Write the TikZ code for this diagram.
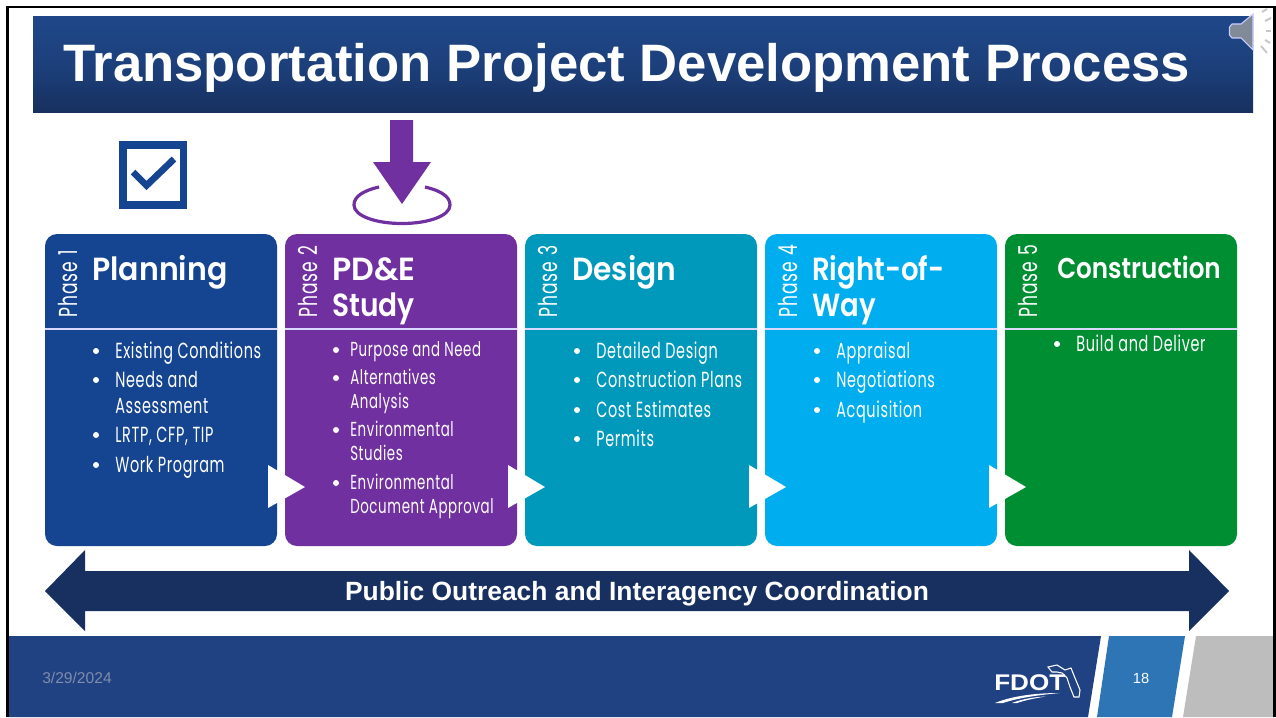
\documentclass[tikz,border=0pt]{standalone}
\usepackage{fontspec}
\setmainfont{Liberation Sans}
\newfontfamily\futbody[FakeStretch=0.66,LetterSpace=3]{Poppins}
\newfontfamily\futphase[FakeStretch=0.66,LetterSpace=4]{Poppins}
\newfontfamily\futhead[FakeStretch=0.86]{Poppins SemiBold}
\newfontfamily\logofont[FakeStretch=1.15]{Liberation Sans Bold}
\usetikzlibrary{calc}
\definecolor{bluea}{HTML}{154491}
\definecolor{purp}{HTML}{7030A0}
\definecolor{teal}{HTML}{0099BB}
\definecolor{sky}{HTML}{00AEEF}
\definecolor{grn}{HTML}{008E33}
\definecolor{navy}{HTML}{17305F}
\definecolor{titletop}{HTML}{1F4788}
\definecolor{band}{HTML}{204282}
\definecolor{pageno}{HTML}{2E75B6}
\definecolor{grayband}{HTML}{BDBDBD}
\definecolor{speaker}{HTML}{808A99}
\definecolor{datecol}{HTML}{7F8CAB}
\tikzset{
  x=0.75pt,y=-0.75pt,
  cardbox/.style={rounded corners=9pt,line width=0pt},
  divider/.style={draw=white!85!blue,line width=1pt},
  phaselabel/.style={text=white,rotate=90,inner sep=0pt,anchor=west,font=\futphase\fontsize{19.5}{20}\selectfont},
  headlabel/.style={text=white,inner sep=0pt,anchor=base west,font=\futhead\fontsize{24}{26}\selectfont},
  itemlabel/.style={text=white,inner sep=0pt,anchor=base west,font=\futbody\fontsize{16.4}{17}\selectfont},
  itemsmall/.style={itemlabel,font=\futbody\fontsize{15.2}{17}\selectfont},
  dotmark/.style={fill=white,circle,inner sep=0pt,minimum size=4.5pt},
  passarrow/.style={fill=white,draw=none},
}
\begin{document}
\begin{tikzpicture}
\useasboundingbox (0,0) rectangle (1276,717);
\fill[white] (0,0) rectangle (1276,717);
% title
\shade[top color=titletop,bottom color=navy,middle color=titletop!70!navy] (33,17) rectangle (1253,112);
\node[text=white,inner sep=0pt,anchor=base west,font=\bfseries\fontsize{39.5}{42}\selectfont] (title) at (63,81.5) {Transportation Project Development Process};
% speaker
\fill[speaker,draw=blue!20!white,line width=0.8pt] (1253,14) -- (1241,24) -- (1232,24) -- (1229.5,27) -- (1229.5,35) -- (1232,38) -- (1241,38) -- (1253,50) -- cycle;
\foreach \a/\b/\c/\d in {1262/12/1267/9, 1265/21/1271/18, 1266/31/1271/31, 1265/40/1270/43, 1261/46/1267/53}{
  \draw[gray!45,line width=1.4pt] (\a,\b) -- (\c,\d);}
% checkbox
\draw[bluea,line width=5.6pt,fill=white] (123,145) rectangle (183.5,205);
\draw[bluea,line width=5pt] (133,172) -- (146.5,185.5) -- (174,159);
% purple arrow
\fill[purp] (390,120) -- (413,120) -- (413,162) -- (431,162) -- (402,204) -- (373,162) -- (390,162) -- cycle;
\draw[purp,line width=2.4pt] (379,187) .. controls (362,191) and (354,197) .. (354,205) .. controls (354,216) and (376,223.5) .. (402,223.5) .. controls (428,223.5) and (450,216) .. (450,205) .. controls (450,197) and (442,191) .. (425,187);
% cards
\fill[cardbox,bluea] (45,234) rectangle (277,546);
\fill[cardbox,purp] (285,234) rectangle (517,546);
\fill[cardbox,teal] (525,234) rectangle (757,546);
\fill[cardbox,sky] (765,234) rectangle (997,546);
\fill[cardbox,grn] (1005,234) rectangle (1237,546);
\foreach \xa in {45,285,525,765,1005}{
  \draw[divider] (\xa,329) -- (\xa+232,329);}
% phase labels
\node[phaselabel] (p1) at (68,318) {Phase 1};
\node[phaselabel] (p2) at (308,318) {Phase 2};
\node[phaselabel] (p3) at (548,318) {Phase 3};
\node[phaselabel] (p4) at (788,318) {Phase 4};
\node[phaselabel] (p5) at (1028,318) {Phase 5};
% headings
\node[headlabel] (h1) at (92,280) {\scalebox{1.09}[1]{Planning}};
\node[headlabel] (h2a) at (332,280) {\scalebox{1.15}[1]{PD\&E}};
\node[headlabel] (h2b) at (332,316) {\scalebox{1.02}[1]{Study}};
\node[headlabel] (h3) at (572,280) {\scalebox{1.08}[1]{Design}};
\node[headlabel] (h4a) at (812,280) {Right-of-};
\node[headlabel] (h4b) at (812,316) {Way};
\node[headlabel,font=\futhead\fontsize{21.5}{24}\selectfont] (h5) at (1057,278) {Construction};
% items
\foreach \dx/\tx/\y/\t in {
 96/115/358/Existing Conditions, 96/115/387/Needs and, 0/115/413/Assessment, 96/115/442/{LRTP, CFP, TIP}, 96/115/472/Work Program,
 577/596/358/Detailed Design, 577/596/387/Construction Plans, 577/596/417/Cost Estimates, 577/596/446/Permits,
 817/836/358/Appraisal, 817/836/387/Negotiations, 817/836/417/Acquisition,
 1057/1076/351/Build and Deliver}{
  \node[itemlabel] at (\tx,\y) {\t};
  \ifnum\dx>0 \node[dotmark] at (\dx,\y-7) {};\fi
}
\foreach \dx/\tx/\y/\t in {
 336/350/356/Purpose and Need, 336/350/384/Alternatives, 0/350/408/Analysis, 336/350/436/Environmental, 0/350/460/Studies, 336/350/489/Environmental, 0/350/513/Document Approval}{
  \node[itemsmall] at (\tx,\y) {\t};
  \ifnum\dx>0 \node[dotmark] at (\dx,\y-6) {};\fi
}
% pass arrows
\foreach \xa in {268,508,749,989}{
  \fill[passarrow] (\xa,465) -- (\xa+37,487) -- (\xa,508) -- cycle;}
% double arrow
\fill[navy] (45,591) -- (85,550) -- (85,571) -- (1189,571) -- (1189,550) -- (1229,591) -- (1189,631) -- (1189,611) -- (85,611) -- (85,631) -- cycle;
\node[text=white,font=\bfseries\fontsize{19.8}{22}\selectfont,inner sep=0pt] (outreach) at (637,594) {Public Outreach and Interagency Coordination};
% footer
\fill[band] (8.5,636) -- (1101,636) -- (1088,717) -- (8.5,717) -- cycle;
\fill[pageno] (1109,636) -- (1185,636) -- (1172,717) -- (1097,717) -- cycle;
\fill[grayband] (1196,636) -- (1276,636) -- (1276,717) -- (1183,717) -- cycle;
\node[text=datecol,font=\fontsize{11.7}{13}\selectfont,inner sep=0pt] (date) at (77,678) {3/29/2024};
\node[text=white,font=\fontsize{11}{13}\selectfont,inner sep=0pt] (num) at (1141,678) {18};
% logo
\node[text=white,font=\logofont\fontsize{17}{18}\selectfont,inner sep=0pt,anchor=base west] (fdot) at (994,690) {FDOT};
\draw[white,line width=0.8pt] (1048,667) -- (1057,665) -- (1065,670) -- (1071,668) -- (1075,678) -- (1080,690) -- (1079,697) -- (1074,697) -- (1070,687) -- (1067,678) -- (1062,673) -- (1057,672) -- (1052,672) -- cycle;
\fill[white] (995,703) .. controls (1012,696) and (1035,693) .. (1060,693) .. controls (1038,695) and (1018,698) .. (1003,703) -- cycle;
\fill[white] (1012,703) .. controls (1022,699) and (1034,697) .. (1046,696.5) .. controls (1036,698) and (1026,700) .. (1017,703) -- cycle;
% frame
\fill[black] (6,6) rectangle (1276,8.5);
\fill[black] (6,6) rectangle (8.5,717);
\fill[black] (1273,6) rectangle (1276,717);
\end{tikzpicture}
\end{document}
